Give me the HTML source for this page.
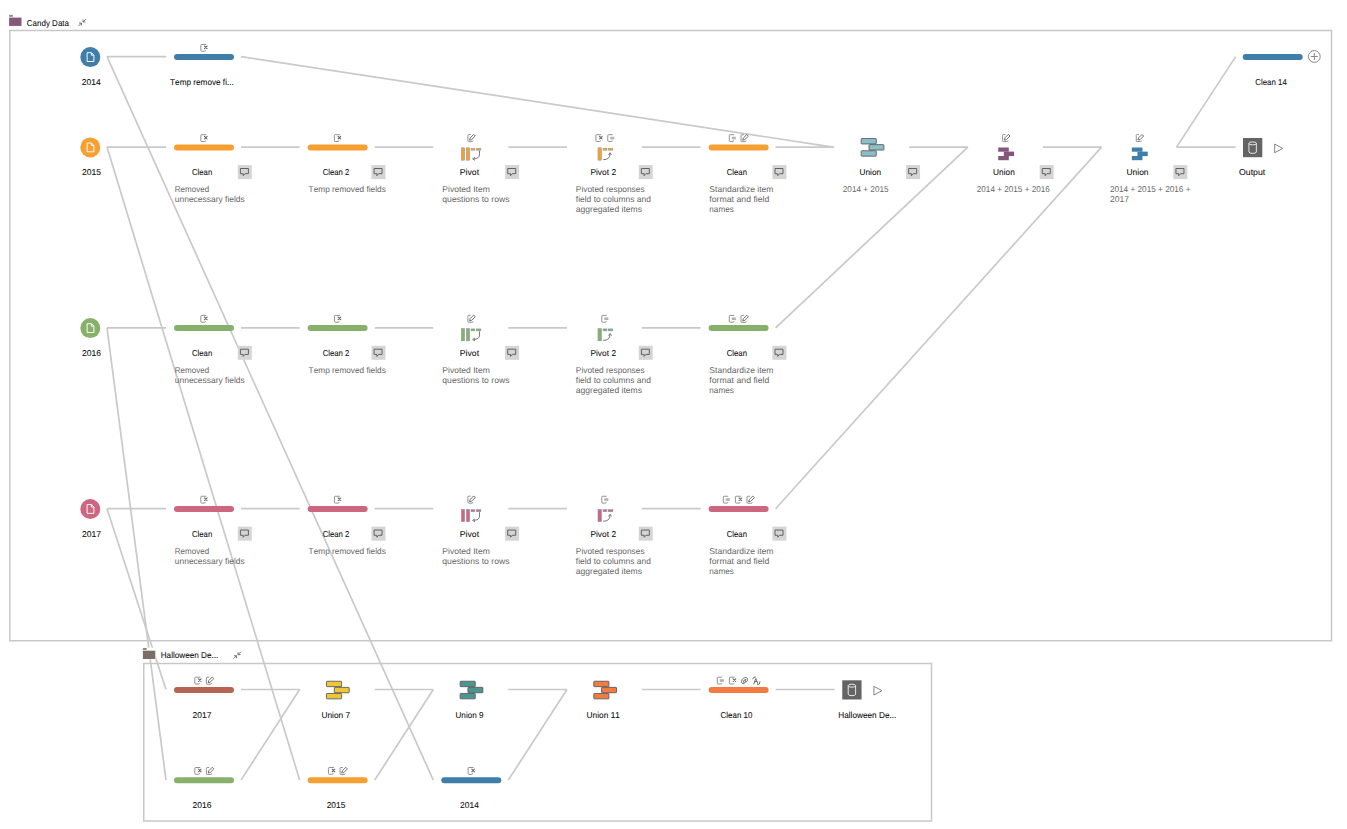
<!DOCTYPE html>
<html><head><meta charset="utf-8"><title>Flow</title>
<style>
html,body{margin:0;padding:0;background:#fff;width:1347px;height:829px;overflow:hidden;}
svg{position:absolute;left:0;top:0;display:block;}
text{font-family:"Liberation Sans", sans-serif;font-variant-ligatures:none;font-kerning:none;}
</style></head><body>
<svg width="1347" height="829" viewBox="0 0 1347 829">
<line x1="107.00" y1="56.60" x2="166.00" y2="56.60" stroke="#c9c9c9" stroke-width="1.7"/>
<line x1="241.00" y1="56.60" x2="833.00" y2="147.10" stroke="#c9c9c9" stroke-width="1.7"/>
<line x1="107.00" y1="147.10" x2="166.00" y2="147.10" stroke="#c9c9c9" stroke-width="1.7"/>
<line x1="241.00" y1="147.10" x2="299.65" y2="147.10" stroke="#c9c9c9" stroke-width="1.7"/>
<line x1="374.65" y1="147.10" x2="433.30" y2="147.10" stroke="#c9c9c9" stroke-width="1.7"/>
<line x1="508.30" y1="147.10" x2="566.95" y2="147.10" stroke="#c9c9c9" stroke-width="1.7"/>
<line x1="641.95" y1="147.10" x2="700.60" y2="147.10" stroke="#c9c9c9" stroke-width="1.7"/>
<line x1="107.00" y1="327.80" x2="166.00" y2="327.80" stroke="#c9c9c9" stroke-width="1.7"/>
<line x1="241.00" y1="327.80" x2="299.65" y2="327.80" stroke="#c9c9c9" stroke-width="1.7"/>
<line x1="374.65" y1="327.80" x2="433.30" y2="327.80" stroke="#c9c9c9" stroke-width="1.7"/>
<line x1="508.30" y1="327.80" x2="566.95" y2="327.80" stroke="#c9c9c9" stroke-width="1.7"/>
<line x1="641.95" y1="327.80" x2="700.60" y2="327.80" stroke="#c9c9c9" stroke-width="1.7"/>
<line x1="107.00" y1="508.70" x2="166.00" y2="508.70" stroke="#c9c9c9" stroke-width="1.7"/>
<line x1="241.00" y1="508.70" x2="299.65" y2="508.70" stroke="#c9c9c9" stroke-width="1.7"/>
<line x1="374.65" y1="508.70" x2="433.30" y2="508.70" stroke="#c9c9c9" stroke-width="1.7"/>
<line x1="508.30" y1="508.70" x2="566.95" y2="508.70" stroke="#c9c9c9" stroke-width="1.7"/>
<line x1="641.95" y1="508.70" x2="700.60" y2="508.70" stroke="#c9c9c9" stroke-width="1.7"/>
<line x1="775.60" y1="147.10" x2="834.25" y2="147.10" stroke="#c9c9c9" stroke-width="1.7"/>
<line x1="909.25" y1="147.10" x2="967.90" y2="147.10" stroke="#c9c9c9" stroke-width="1.7"/>
<line x1="1042.90" y1="147.10" x2="1101.55" y2="147.10" stroke="#c9c9c9" stroke-width="1.7"/>
<line x1="1176.55" y1="147.10" x2="1235.70" y2="147.10" stroke="#c9c9c9" stroke-width="1.7"/>
<line x1="1176.55" y1="147.10" x2="1235.70" y2="56.60" stroke="#c9c9c9" stroke-width="1.7"/>
<line x1="775.60" y1="327.80" x2="967.90" y2="147.10" stroke="#c9c9c9" stroke-width="1.7"/>
<line x1="775.60" y1="508.70" x2="1101.55" y2="147.10" stroke="#c9c9c9" stroke-width="1.7"/>
<line x1="107.00" y1="56.60" x2="433.30" y2="780.10" stroke="#c9c9c9" stroke-width="1.7"/>
<line x1="107.00" y1="147.10" x2="299.65" y2="780.10" stroke="#c9c9c9" stroke-width="1.7"/>
<line x1="107.00" y1="327.80" x2="166.00" y2="780.10" stroke="#c9c9c9" stroke-width="1.7"/>
<line x1="107.00" y1="508.70" x2="166.00" y2="689.50" stroke="#c9c9c9" stroke-width="1.7"/>
<line x1="241.00" y1="689.50" x2="299.65" y2="689.50" stroke="#c9c9c9" stroke-width="1.7"/>
<line x1="241.00" y1="780.10" x2="299.65" y2="689.50" stroke="#c9c9c9" stroke-width="1.7"/>
<line x1="374.65" y1="689.50" x2="433.30" y2="689.50" stroke="#c9c9c9" stroke-width="1.7"/>
<line x1="374.65" y1="780.10" x2="433.30" y2="689.50" stroke="#c9c9c9" stroke-width="1.7"/>
<line x1="508.30" y1="689.50" x2="566.95" y2="689.50" stroke="#c9c9c9" stroke-width="1.7"/>
<line x1="508.30" y1="780.10" x2="566.95" y2="689.50" stroke="#c9c9c9" stroke-width="1.7"/>
<line x1="641.95" y1="689.50" x2="700.60" y2="689.50" stroke="#c9c9c9" stroke-width="1.7"/>
<line x1="775.60" y1="689.50" x2="834.75" y2="689.50" stroke="#c9c9c9" stroke-width="1.7"/>
<rect x="9.75" y="30.5" width="1321.75" height="610.25" fill="none" stroke="#c8c8c8" stroke-width="1.5"/>
<rect x="143.75" y="663.5" width="787.75" height="157.5" fill="none" stroke="#c8c8c8" stroke-width="1.5"/>
<rect x="9.1" y="14.9" width="3.8" height="1.9" fill="#a07c97"/>
<rect x="9.1" y="17.6" width="12.4" height="8.3" fill="#85577a"/>
<g transform="translate(78.00,18.50)" fill="none" stroke="#555" stroke-width="0.8"><path d="M0.5,7.5 L3.5,4.5 M1,4.5 H3.5 V7"/><path d="M8,0.5 L5,3.5 M5,1 V3.5 H7.5"/></g>
<rect x="142.3" y="647.7" width="13.6" height="11.6" fill="#ffffff"/>
<rect x="142.9" y="648.0" width="3.8" height="1.9" fill="#8f847d"/>
<rect x="142.9" y="650.7" width="12.4" height="8.3" fill="#7c6e67"/>
<g transform="translate(233.00,651.20)" fill="none" stroke="#555" stroke-width="0.8"><path d="M0.5,7.5 L3.5,4.5 M1,4.5 H3.5 V7"/><path d="M8,0.5 L5,3.5 M5,1 V3.5 H7.5"/></g>
<circle cx="90.3" cy="57.1" r="10" fill="#3e7ea9"/>
<path transform="translate(86.00,52.10)" d="M1.1,0.6 H5.4 L7.9,3.1 V9.4 H1.1 Z M5.4,0.6 V3.1 H7.9" fill="none" stroke="#ffffff" stroke-width="0.95" stroke-linejoin="miter"/>
<circle cx="90.3" cy="147.4" r="10" fill="#f5a031"/>
<path transform="translate(86.00,142.40)" d="M1.1,0.6 H5.4 L7.9,3.1 V9.4 H1.1 Z M5.4,0.6 V3.1 H7.9" fill="none" stroke="#ffffff" stroke-width="0.95" stroke-linejoin="miter"/>
<circle cx="90.3" cy="328.1" r="10" fill="#87b06a"/>
<path transform="translate(86.00,323.10)" d="M1.1,0.6 H5.4 L7.9,3.1 V9.4 H1.1 Z M5.4,0.6 V3.1 H7.9" fill="none" stroke="#ffffff" stroke-width="0.95" stroke-linejoin="miter"/>
<circle cx="90.3" cy="508.95" r="10" fill="#cd6680"/>
<path transform="translate(86.00,503.95)" d="M1.1,0.6 H5.4 L7.9,3.1 V9.4 H1.1 Z M5.4,0.6 V3.1 H7.9" fill="none" stroke="#ffffff" stroke-width="0.95" stroke-linejoin="miter"/>
<rect x="174.00" y="54.10" width="60" height="6" rx="3" ry="3" fill="#3e7ea9"/>
<g transform="translate(200.30,43.90)" fill="none" stroke-linecap="round"><path d="M5.6,0.5 H1.3 Q0.5,0.5 0.5,1.3 V6.5 Q0.5,7.3 1.3,7.3 H4.4 Q5.2,7.3 5.2,6.6" stroke="#8c8c8c" stroke-width="0.95"/><path d="M4.2,2.2 L6.8,4.8 M6.8,2.2 L4.2,4.8" stroke="#5a5a5a" stroke-width="1.05"/></g>
<rect x="174.00" y="144.40" width="60" height="6" rx="3" ry="3" fill="#f5a031"/>
<g transform="translate(200.30,134.20)" fill="none" stroke-linecap="round"><path d="M5.6,0.5 H1.3 Q0.5,0.5 0.5,1.3 V6.5 Q0.5,7.3 1.3,7.3 H4.4 Q5.2,7.3 5.2,6.6" stroke="#8c8c8c" stroke-width="0.95"/><path d="M4.2,2.2 L6.8,4.8 M6.8,2.2 L4.2,4.8" stroke="#5a5a5a" stroke-width="1.05"/></g>
<rect x="237.80" y="165.10" width="14" height="14" fill="#d5d5d5"/><path transform="translate(237.80,165.10)" d="M2.6,3.4 H10.6 V8.6 H7.2 L5.4,10.6 V8.6 H2.6 Z" fill="none" stroke="#5c5c5c" stroke-width="0.95" stroke-linejoin="miter"/>
<rect x="307.65" y="144.40" width="60" height="6" rx="3" ry="3" fill="#f5a031"/>
<g transform="translate(333.95,134.20)" fill="none" stroke-linecap="round"><path d="M5.6,0.5 H1.3 Q0.5,0.5 0.5,1.3 V6.5 Q0.5,7.3 1.3,7.3 H4.4 Q5.2,7.3 5.2,6.6" stroke="#8c8c8c" stroke-width="0.95"/><path d="M4.2,2.2 L6.8,4.8 M6.8,2.2 L4.2,4.8" stroke="#5a5a5a" stroke-width="1.05"/></g>
<rect x="371.45" y="165.10" width="14" height="14" fill="#d5d5d5"/><path transform="translate(371.45,165.10)" d="M2.6,3.4 H10.6 V8.6 H7.2 L5.4,10.6 V8.6 H2.6 Z" fill="none" stroke="#5c5c5c" stroke-width="0.95" stroke-linejoin="miter"/>
<g transform="translate(461.00,147.50)"><rect x="0.3" y="0.3" width="3.4" height="12.4" fill="#f5a031" stroke="#8797ab" stroke-width="0.5"/><rect x="5.3" y="0.3" width="3.4" height="12.4" fill="#f5a031" stroke="#8797ab" stroke-width="0.5"/><rect x="10" y="0.7" width="3.8" height="2" fill="#f5a031" stroke="#8797ab" stroke-width="0.5"/><rect x="15.2" y="0.7" width="4.7" height="2" fill="#f5a031" stroke="#8797ab" stroke-width="0.5"/><path d="M18.5,3.2 V7 Q18.5,11 13,11.3" fill="none" stroke="#555" stroke-width="0.8"/><path d="M14,9.8 L11.6,11.3 L14,12.8" fill="none" stroke="#555" stroke-width="0.8"/></g>
<g transform="translate(467.40,134.10)" fill="none" stroke-linecap="round" stroke-linejoin="round"><path d="M3.0,0.5 H1.3 Q0.5,0.5 0.5,1.3 V6.7 Q0.5,7.5 1.3,7.5 H4.8 Q5.6,7.5 5.6,6.8" stroke="#8c8c8c" stroke-width="0.95"/><path d="M2.3,5.6 L2.9,3.7 L6.3,0.3 L7.9,1.9 L4.5,5.3 Z" stroke="#5f5f5f" stroke-width="0.9"/></g>
<rect x="505.10" y="165.10" width="14" height="14" fill="#d5d5d5"/><path transform="translate(505.10,165.10)" d="M2.6,3.4 H10.6 V8.6 H7.2 L5.4,10.6 V8.6 H2.6 Z" fill="none" stroke="#5c5c5c" stroke-width="0.95" stroke-linejoin="miter"/>
<g transform="translate(597.65,147.50)"><rect x="0.3" y="0.3" width="3.6" height="12.4" fill="#f5a031" stroke="#8797ab" stroke-width="0.5"/><rect x="5.4" y="0.7" width="3.8" height="2" fill="#f5a031" stroke="#8797ab" stroke-width="0.5"/><rect x="10.4" y="0.7" width="4.8" height="2" fill="#f5a031" stroke="#8797ab" stroke-width="0.5"/><path d="M5.5,12.2 Q12.4,12.2 12.4,6.2" fill="none" stroke="#555" stroke-width="0.8"/><path d="M10.9,7.4 L12.4,5.2 L13.9,7.4" fill="none" stroke="#555" stroke-width="0.8"/></g>
<g transform="translate(595.35,134.20)" fill="none" stroke-linecap="round"><path d="M5.6,0.5 H1.3 Q0.5,0.5 0.5,1.3 V6.5 Q0.5,7.3 1.3,7.3 H4.4 Q5.2,7.3 5.2,6.6" stroke="#8c8c8c" stroke-width="0.95"/><path d="M4.2,2.2 L6.8,4.8 M6.8,2.2 L4.2,4.8" stroke="#5a5a5a" stroke-width="1.05"/></g>
<g transform="translate(607.25,134.20)" fill="none" stroke-linecap="round"><path d="M5.0,0.5 H1.3 Q0.5,0.5 0.5,1.3 V6.5 Q0.5,7.3 1.3,7.3 H4.4 Q5.0,7.3 5.0,6.6" stroke="#8c8c8c" stroke-width="0.95"/><rect x="3.1" y="2.6" width="3.9" height="2.5" fill="#a0a0a0" stroke="none"/><path d="M3.1,3.35 H7 M3.1,4.35 H7" stroke="#dadada" stroke-width="0.4"/></g>
<rect x="638.75" y="165.10" width="14" height="14" fill="#d5d5d5"/><path transform="translate(638.75,165.10)" d="M2.6,3.4 H10.6 V8.6 H7.2 L5.4,10.6 V8.6 H2.6 Z" fill="none" stroke="#5c5c5c" stroke-width="0.95" stroke-linejoin="miter"/>
<rect x="708.60" y="144.40" width="60" height="6" rx="3" ry="3" fill="#f5a031"/>
<g transform="translate(728.80,134.20)" fill="none" stroke-linecap="round"><path d="M5.0,0.5 H1.3 Q0.5,0.5 0.5,1.3 V6.5 Q0.5,7.3 1.3,7.3 H4.4 Q5.0,7.3 5.0,6.6" stroke="#8c8c8c" stroke-width="0.95"/><rect x="3.1" y="2.6" width="3.9" height="2.5" fill="#a0a0a0" stroke="none"/><path d="M3.1,3.35 H7 M3.1,4.35 H7" stroke="#dadada" stroke-width="0.4"/></g>
<g transform="translate(740.50,134.20)" fill="none" stroke-linecap="round" stroke-linejoin="round"><path d="M3.0,0.5 H1.3 Q0.5,0.5 0.5,1.3 V6.7 Q0.5,7.5 1.3,7.5 H4.8 Q5.6,7.5 5.6,6.8" stroke="#8c8c8c" stroke-width="0.95"/><path d="M2.3,5.6 L2.9,3.7 L6.3,0.3 L7.9,1.9 L4.5,5.3 Z" stroke="#5f5f5f" stroke-width="0.9"/></g>
<rect x="772.40" y="165.10" width="14" height="14" fill="#d5d5d5"/><path transform="translate(772.40,165.10)" d="M2.6,3.4 H10.6 V8.6 H7.2 L5.4,10.6 V8.6 H2.6 Z" fill="none" stroke="#5c5c5c" stroke-width="0.95" stroke-linejoin="miter"/>
<rect x="174.00" y="325.10" width="60" height="6" rx="3" ry="3" fill="#87b06a"/>
<g transform="translate(200.30,314.90)" fill="none" stroke-linecap="round"><path d="M5.6,0.5 H1.3 Q0.5,0.5 0.5,1.3 V6.5 Q0.5,7.3 1.3,7.3 H4.4 Q5.2,7.3 5.2,6.6" stroke="#8c8c8c" stroke-width="0.95"/><path d="M4.2,2.2 L6.8,4.8 M6.8,2.2 L4.2,4.8" stroke="#5a5a5a" stroke-width="1.05"/></g>
<rect x="237.80" y="345.80" width="14" height="14" fill="#d5d5d5"/><path transform="translate(237.80,345.80)" d="M2.6,3.4 H10.6 V8.6 H7.2 L5.4,10.6 V8.6 H2.6 Z" fill="none" stroke="#5c5c5c" stroke-width="0.95" stroke-linejoin="miter"/>
<rect x="307.65" y="325.10" width="60" height="6" rx="3" ry="3" fill="#87b06a"/>
<g transform="translate(333.95,314.90)" fill="none" stroke-linecap="round"><path d="M5.6,0.5 H1.3 Q0.5,0.5 0.5,1.3 V6.5 Q0.5,7.3 1.3,7.3 H4.4 Q5.2,7.3 5.2,6.6" stroke="#8c8c8c" stroke-width="0.95"/><path d="M4.2,2.2 L6.8,4.8 M6.8,2.2 L4.2,4.8" stroke="#5a5a5a" stroke-width="1.05"/></g>
<rect x="371.45" y="345.80" width="14" height="14" fill="#d5d5d5"/><path transform="translate(371.45,345.80)" d="M2.6,3.4 H10.6 V8.6 H7.2 L5.4,10.6 V8.6 H2.6 Z" fill="none" stroke="#5c5c5c" stroke-width="0.95" stroke-linejoin="miter"/>
<g transform="translate(461.00,328.20)"><rect x="0.3" y="0.3" width="3.4" height="12.4" fill="#87b06a" stroke="#8797ab" stroke-width="0.5"/><rect x="5.3" y="0.3" width="3.4" height="12.4" fill="#87b06a" stroke="#8797ab" stroke-width="0.5"/><rect x="10" y="0.7" width="3.8" height="2" fill="#87b06a" stroke="#8797ab" stroke-width="0.5"/><rect x="15.2" y="0.7" width="4.7" height="2" fill="#87b06a" stroke="#8797ab" stroke-width="0.5"/><path d="M18.5,3.2 V7 Q18.5,11 13,11.3" fill="none" stroke="#555" stroke-width="0.8"/><path d="M14,9.8 L11.6,11.3 L14,12.8" fill="none" stroke="#555" stroke-width="0.8"/></g>
<g transform="translate(467.40,314.80)" fill="none" stroke-linecap="round" stroke-linejoin="round"><path d="M3.0,0.5 H1.3 Q0.5,0.5 0.5,1.3 V6.7 Q0.5,7.5 1.3,7.5 H4.8 Q5.6,7.5 5.6,6.8" stroke="#8c8c8c" stroke-width="0.95"/><path d="M2.3,5.6 L2.9,3.7 L6.3,0.3 L7.9,1.9 L4.5,5.3 Z" stroke="#5f5f5f" stroke-width="0.9"/></g>
<rect x="505.10" y="345.80" width="14" height="14" fill="#d5d5d5"/><path transform="translate(505.10,345.80)" d="M2.6,3.4 H10.6 V8.6 H7.2 L5.4,10.6 V8.6 H2.6 Z" fill="none" stroke="#5c5c5c" stroke-width="0.95" stroke-linejoin="miter"/>
<g transform="translate(597.65,328.20)"><rect x="0.3" y="0.3" width="3.6" height="12.4" fill="#87b06a" stroke="#8797ab" stroke-width="0.5"/><rect x="5.4" y="0.7" width="3.8" height="2" fill="#87b06a" stroke="#8797ab" stroke-width="0.5"/><rect x="10.4" y="0.7" width="4.8" height="2" fill="#87b06a" stroke="#8797ab" stroke-width="0.5"/><path d="M5.5,12.2 Q12.4,12.2 12.4,6.2" fill="none" stroke="#555" stroke-width="0.8"/><path d="M10.9,7.4 L12.4,5.2 L13.9,7.4" fill="none" stroke="#555" stroke-width="0.8"/></g>
<g transform="translate(601.25,314.90)" fill="none" stroke-linecap="round"><path d="M5.0,0.5 H1.3 Q0.5,0.5 0.5,1.3 V6.5 Q0.5,7.3 1.3,7.3 H4.4 Q5.0,7.3 5.0,6.6" stroke="#8c8c8c" stroke-width="0.95"/><rect x="3.1" y="2.6" width="3.9" height="2.5" fill="#a0a0a0" stroke="none"/><path d="M3.1,3.35 H7 M3.1,4.35 H7" stroke="#dadada" stroke-width="0.4"/></g>
<rect x="638.75" y="345.80" width="14" height="14" fill="#d5d5d5"/><path transform="translate(638.75,345.80)" d="M2.6,3.4 H10.6 V8.6 H7.2 L5.4,10.6 V8.6 H2.6 Z" fill="none" stroke="#5c5c5c" stroke-width="0.95" stroke-linejoin="miter"/>
<rect x="708.60" y="325.10" width="60" height="6" rx="3" ry="3" fill="#87b06a"/>
<g transform="translate(728.80,314.90)" fill="none" stroke-linecap="round"><path d="M5.0,0.5 H1.3 Q0.5,0.5 0.5,1.3 V6.5 Q0.5,7.3 1.3,7.3 H4.4 Q5.0,7.3 5.0,6.6" stroke="#8c8c8c" stroke-width="0.95"/><rect x="3.1" y="2.6" width="3.9" height="2.5" fill="#a0a0a0" stroke="none"/><path d="M3.1,3.35 H7 M3.1,4.35 H7" stroke="#dadada" stroke-width="0.4"/></g>
<g transform="translate(740.50,314.90)" fill="none" stroke-linecap="round" stroke-linejoin="round"><path d="M3.0,0.5 H1.3 Q0.5,0.5 0.5,1.3 V6.7 Q0.5,7.5 1.3,7.5 H4.8 Q5.6,7.5 5.6,6.8" stroke="#8c8c8c" stroke-width="0.95"/><path d="M2.3,5.6 L2.9,3.7 L6.3,0.3 L7.9,1.9 L4.5,5.3 Z" stroke="#5f5f5f" stroke-width="0.9"/></g>
<rect x="772.40" y="345.80" width="14" height="14" fill="#d5d5d5"/><path transform="translate(772.40,345.80)" d="M2.6,3.4 H10.6 V8.6 H7.2 L5.4,10.6 V8.6 H2.6 Z" fill="none" stroke="#5c5c5c" stroke-width="0.95" stroke-linejoin="miter"/>
<rect x="174.00" y="505.95" width="60" height="6" rx="3" ry="3" fill="#cd6680"/>
<g transform="translate(200.30,495.75)" fill="none" stroke-linecap="round"><path d="M5.6,0.5 H1.3 Q0.5,0.5 0.5,1.3 V6.5 Q0.5,7.3 1.3,7.3 H4.4 Q5.2,7.3 5.2,6.6" stroke="#8c8c8c" stroke-width="0.95"/><path d="M4.2,2.2 L6.8,4.8 M6.8,2.2 L4.2,4.8" stroke="#5a5a5a" stroke-width="1.05"/></g>
<rect x="237.80" y="526.65" width="14" height="14" fill="#d5d5d5"/><path transform="translate(237.80,526.65)" d="M2.6,3.4 H10.6 V8.6 H7.2 L5.4,10.6 V8.6 H2.6 Z" fill="none" stroke="#5c5c5c" stroke-width="0.95" stroke-linejoin="miter"/>
<rect x="307.65" y="505.95" width="60" height="6" rx="3" ry="3" fill="#cd6680"/>
<g transform="translate(333.95,495.75)" fill="none" stroke-linecap="round"><path d="M5.6,0.5 H1.3 Q0.5,0.5 0.5,1.3 V6.5 Q0.5,7.3 1.3,7.3 H4.4 Q5.2,7.3 5.2,6.6" stroke="#8c8c8c" stroke-width="0.95"/><path d="M4.2,2.2 L6.8,4.8 M6.8,2.2 L4.2,4.8" stroke="#5a5a5a" stroke-width="1.05"/></g>
<rect x="371.45" y="526.65" width="14" height="14" fill="#d5d5d5"/><path transform="translate(371.45,526.65)" d="M2.6,3.4 H10.6 V8.6 H7.2 L5.4,10.6 V8.6 H2.6 Z" fill="none" stroke="#5c5c5c" stroke-width="0.95" stroke-linejoin="miter"/>
<g transform="translate(461.00,509.05)"><rect x="0.3" y="0.3" width="3.4" height="12.4" fill="#cd6680" stroke="#8797ab" stroke-width="0.5"/><rect x="5.3" y="0.3" width="3.4" height="12.4" fill="#cd6680" stroke="#8797ab" stroke-width="0.5"/><rect x="10" y="0.7" width="3.8" height="2" fill="#cd6680" stroke="#8797ab" stroke-width="0.5"/><rect x="15.2" y="0.7" width="4.7" height="2" fill="#cd6680" stroke="#8797ab" stroke-width="0.5"/><path d="M18.5,3.2 V7 Q18.5,11 13,11.3" fill="none" stroke="#555" stroke-width="0.8"/><path d="M14,9.8 L11.6,11.3 L14,12.8" fill="none" stroke="#555" stroke-width="0.8"/></g>
<g transform="translate(467.40,495.65)" fill="none" stroke-linecap="round" stroke-linejoin="round"><path d="M3.0,0.5 H1.3 Q0.5,0.5 0.5,1.3 V6.7 Q0.5,7.5 1.3,7.5 H4.8 Q5.6,7.5 5.6,6.8" stroke="#8c8c8c" stroke-width="0.95"/><path d="M2.3,5.6 L2.9,3.7 L6.3,0.3 L7.9,1.9 L4.5,5.3 Z" stroke="#5f5f5f" stroke-width="0.9"/></g>
<rect x="505.10" y="526.65" width="14" height="14" fill="#d5d5d5"/><path transform="translate(505.10,526.65)" d="M2.6,3.4 H10.6 V8.6 H7.2 L5.4,10.6 V8.6 H2.6 Z" fill="none" stroke="#5c5c5c" stroke-width="0.95" stroke-linejoin="miter"/>
<g transform="translate(597.65,509.05)"><rect x="0.3" y="0.3" width="3.6" height="12.4" fill="#cd6680" stroke="#8797ab" stroke-width="0.5"/><rect x="5.4" y="0.7" width="3.8" height="2" fill="#cd6680" stroke="#8797ab" stroke-width="0.5"/><rect x="10.4" y="0.7" width="4.8" height="2" fill="#cd6680" stroke="#8797ab" stroke-width="0.5"/><path d="M5.5,12.2 Q12.4,12.2 12.4,6.2" fill="none" stroke="#555" stroke-width="0.8"/><path d="M10.9,7.4 L12.4,5.2 L13.9,7.4" fill="none" stroke="#555" stroke-width="0.8"/></g>
<g transform="translate(601.25,495.75)" fill="none" stroke-linecap="round"><path d="M5.0,0.5 H1.3 Q0.5,0.5 0.5,1.3 V6.5 Q0.5,7.3 1.3,7.3 H4.4 Q5.0,7.3 5.0,6.6" stroke="#8c8c8c" stroke-width="0.95"/><rect x="3.1" y="2.6" width="3.9" height="2.5" fill="#a0a0a0" stroke="none"/><path d="M3.1,3.35 H7 M3.1,4.35 H7" stroke="#dadada" stroke-width="0.4"/></g>
<rect x="638.75" y="526.65" width="14" height="14" fill="#d5d5d5"/><path transform="translate(638.75,526.65)" d="M2.6,3.4 H10.6 V8.6 H7.2 L5.4,10.6 V8.6 H2.6 Z" fill="none" stroke="#5c5c5c" stroke-width="0.95" stroke-linejoin="miter"/>
<rect x="708.60" y="505.95" width="60" height="6" rx="3" ry="3" fill="#cd6680"/>
<g transform="translate(722.80,495.75)" fill="none" stroke-linecap="round"><path d="M5.0,0.5 H1.3 Q0.5,0.5 0.5,1.3 V6.5 Q0.5,7.3 1.3,7.3 H4.4 Q5.0,7.3 5.0,6.6" stroke="#8c8c8c" stroke-width="0.95"/><rect x="3.1" y="2.6" width="3.9" height="2.5" fill="#a0a0a0" stroke="none"/><path d="M3.1,3.35 H7 M3.1,4.35 H7" stroke="#dadada" stroke-width="0.4"/></g>
<g transform="translate(734.90,495.75)" fill="none" stroke-linecap="round"><path d="M5.6,0.5 H1.3 Q0.5,0.5 0.5,1.3 V6.5 Q0.5,7.3 1.3,7.3 H4.4 Q5.2,7.3 5.2,6.6" stroke="#8c8c8c" stroke-width="0.95"/><path d="M4.2,2.2 L6.8,4.8 M6.8,2.2 L4.2,4.8" stroke="#5a5a5a" stroke-width="1.05"/></g>
<g transform="translate(746.50,495.75)" fill="none" stroke-linecap="round" stroke-linejoin="round"><path d="M3.0,0.5 H1.3 Q0.5,0.5 0.5,1.3 V6.7 Q0.5,7.5 1.3,7.5 H4.8 Q5.6,7.5 5.6,6.8" stroke="#8c8c8c" stroke-width="0.95"/><path d="M2.3,5.6 L2.9,3.7 L6.3,0.3 L7.9,1.9 L4.5,5.3 Z" stroke="#5f5f5f" stroke-width="0.9"/></g>
<rect x="772.40" y="526.65" width="14" height="14" fill="#d5d5d5"/><path transform="translate(772.40,526.65)" d="M2.6,3.4 H10.6 V8.6 H7.2 L5.4,10.6 V8.6 H2.6 Z" fill="none" stroke="#5c5c5c" stroke-width="0.95" stroke-linejoin="miter"/>
<g transform="translate(860.75,138.10)" fill="#8bc0ca" stroke="#5c5c5c" stroke-width="0.9"><rect x="0.45" y="0.45" width="15.1" height="5.4" rx="0.6"/><rect x="0.45" y="12.65" width="15.1" height="5.4" rx="0.6"/><rect x="8.25" y="6.55" width="14.9" height="5.4" rx="0.6"/></g>
<rect x="906.05" y="165.10" width="14" height="14" fill="#d5d5d5"/><path transform="translate(906.05,165.10)" d="M2.6,3.4 H10.6 V8.6 H7.2 L5.4,10.6 V8.6 H2.6 Z" fill="none" stroke="#5c5c5c" stroke-width="0.95" stroke-linejoin="miter"/>
<g transform="translate(998.20,147.50)" fill="#845678"><rect x="0" y="0" width="10.6" height="4.2"/><rect x="0" y="8.5" width="10.6" height="4.2"/><rect x="5.6" y="4.1" width="10.3" height="4.5"/></g>
<g transform="translate(1002.10,134.10)" fill="none" stroke-linecap="round" stroke-linejoin="round"><path d="M3.0,0.5 H1.3 Q0.5,0.5 0.5,1.3 V6.7 Q0.5,7.5 1.3,7.5 H4.8 Q5.6,7.5 5.6,6.8" stroke="#8c8c8c" stroke-width="0.95"/><path d="M2.3,5.6 L2.9,3.7 L6.3,0.3 L7.9,1.9 L4.5,5.3 Z" stroke="#5f5f5f" stroke-width="0.9"/></g>
<rect x="1039.70" y="165.10" width="14" height="14" fill="#d5d5d5"/><path transform="translate(1039.70,165.10)" d="M2.6,3.4 H10.6 V8.6 H7.2 L5.4,10.6 V8.6 H2.6 Z" fill="none" stroke="#5c5c5c" stroke-width="0.95" stroke-linejoin="miter"/>
<g transform="translate(1131.85,147.50)" fill="#3e7ea9"><rect x="0" y="0" width="10.6" height="4.2"/><rect x="0" y="8.5" width="10.6" height="4.2"/><rect x="5.6" y="4.1" width="10.3" height="4.5"/></g>
<g transform="translate(1135.75,134.10)" fill="none" stroke-linecap="round" stroke-linejoin="round"><path d="M3.0,0.5 H1.3 Q0.5,0.5 0.5,1.3 V6.7 Q0.5,7.5 1.3,7.5 H4.8 Q5.6,7.5 5.6,6.8" stroke="#8c8c8c" stroke-width="0.95"/><path d="M2.3,5.6 L2.9,3.7 L6.3,0.3 L7.9,1.9 L4.5,5.3 Z" stroke="#5f5f5f" stroke-width="0.9"/></g>
<rect x="1173.35" y="165.10" width="14" height="14" fill="#d5d5d5"/><path transform="translate(1173.35,165.10)" d="M2.6,3.4 H10.6 V8.6 H7.2 L5.4,10.6 V8.6 H2.6 Z" fill="none" stroke="#5c5c5c" stroke-width="0.95" stroke-linejoin="miter"/>
<rect x="1243.00" y="138.00" width="19.3" height="19.2" fill="#646464"/>
<g transform="translate(1243.00,138.00)" fill="none" stroke="#ffffff" stroke-width="0.85"><ellipse cx="9.65" cy="5.4" rx="3.7" ry="1.5"/><path d="M5.95,5.4 V13.9 Q5.95,15.4 9.65,15.4 Q13.35,15.4 13.35,13.9 V5.4"/></g>
<path transform="translate(1274.20,143.60)" d="M0.5,0.5 L8.6,4.8 L0.5,9.1 Z" fill="none" stroke="#777" stroke-width="0.9"/>
<rect x="1242.70" y="54.10" width="60" height="6" rx="3" ry="3" fill="#3e7ea9"/>
<circle cx="1314.3" cy="56.5" r="5.9" fill="none" stroke="#7a7a7a" stroke-width="0.9"/><path d="M1314.3,53 V60 M1310.8,56.5 H1317.8" stroke="#7a7a7a" stroke-width="0.9"/>
<rect x="174.00" y="686.90" width="60" height="6" rx="3" ry="3" fill="#b56352"/>
<g transform="translate(194.30,676.70)" fill="none" stroke-linecap="round"><path d="M5.6,0.5 H1.3 Q0.5,0.5 0.5,1.3 V6.5 Q0.5,7.3 1.3,7.3 H4.4 Q5.2,7.3 5.2,6.6" stroke="#8c8c8c" stroke-width="0.95"/><path d="M4.2,2.2 L6.8,4.8 M6.8,2.2 L4.2,4.8" stroke="#5a5a5a" stroke-width="1.05"/></g>
<g transform="translate(205.90,676.70)" fill="none" stroke-linecap="round" stroke-linejoin="round"><path d="M3.0,0.5 H1.3 Q0.5,0.5 0.5,1.3 V6.7 Q0.5,7.5 1.3,7.5 H4.8 Q5.6,7.5 5.6,6.8" stroke="#8c8c8c" stroke-width="0.95"/><path d="M2.3,5.6 L2.9,3.7 L6.3,0.3 L7.9,1.9 L4.5,5.3 Z" stroke="#5f5f5f" stroke-width="0.9"/></g>
<rect x="174.00" y="777.20" width="60" height="6" rx="3" ry="3" fill="#87b06a"/>
<g transform="translate(194.30,767.00)" fill="none" stroke-linecap="round"><path d="M5.6,0.5 H1.3 Q0.5,0.5 0.5,1.3 V6.5 Q0.5,7.3 1.3,7.3 H4.4 Q5.2,7.3 5.2,6.6" stroke="#8c8c8c" stroke-width="0.95"/><path d="M4.2,2.2 L6.8,4.8 M6.8,2.2 L4.2,4.8" stroke="#5a5a5a" stroke-width="1.05"/></g>
<g transform="translate(205.90,767.00)" fill="none" stroke-linecap="round" stroke-linejoin="round"><path d="M3.0,0.5 H1.3 Q0.5,0.5 0.5,1.3 V6.7 Q0.5,7.5 1.3,7.5 H4.8 Q5.6,7.5 5.6,6.8" stroke="#8c8c8c" stroke-width="0.95"/><path d="M2.3,5.6 L2.9,3.7 L6.3,0.3 L7.9,1.9 L4.5,5.3 Z" stroke="#5f5f5f" stroke-width="0.9"/></g>
<rect x="307.65" y="777.20" width="60" height="6" rx="3" ry="3" fill="#f5a031"/>
<g transform="translate(327.95,767.00)" fill="none" stroke-linecap="round"><path d="M5.6,0.5 H1.3 Q0.5,0.5 0.5,1.3 V6.5 Q0.5,7.3 1.3,7.3 H4.4 Q5.2,7.3 5.2,6.6" stroke="#8c8c8c" stroke-width="0.95"/><path d="M4.2,2.2 L6.8,4.8 M6.8,2.2 L4.2,4.8" stroke="#5a5a5a" stroke-width="1.05"/></g>
<g transform="translate(339.55,767.00)" fill="none" stroke-linecap="round" stroke-linejoin="round"><path d="M3.0,0.5 H1.3 Q0.5,0.5 0.5,1.3 V6.7 Q0.5,7.5 1.3,7.5 H4.8 Q5.6,7.5 5.6,6.8" stroke="#8c8c8c" stroke-width="0.95"/><path d="M2.3,5.6 L2.9,3.7 L6.3,0.3 L7.9,1.9 L4.5,5.3 Z" stroke="#5f5f5f" stroke-width="0.9"/></g>
<rect x="441.30" y="777.20" width="60" height="6" rx="3" ry="3" fill="#3e7ea9"/>
<g transform="translate(467.60,767.00)" fill="none" stroke-linecap="round"><path d="M5.6,0.5 H1.3 Q0.5,0.5 0.5,1.3 V6.5 Q0.5,7.3 1.3,7.3 H4.4 Q5.2,7.3 5.2,6.6" stroke="#8c8c8c" stroke-width="0.95"/><path d="M4.2,2.2 L6.8,4.8 M6.8,2.2 L4.2,4.8" stroke="#5a5a5a" stroke-width="1.05"/></g>
<g transform="translate(326.05,680.80)" fill="#eec637" stroke="#5c5c5c" stroke-width="0.9"><rect x="0.45" y="0.45" width="15.1" height="5.4" rx="0.6"/><rect x="0.45" y="12.65" width="15.1" height="5.4" rx="0.6"/><rect x="8.25" y="6.55" width="14.9" height="5.4" rx="0.6"/></g>
<g transform="translate(459.70,680.80)" fill="#4a9792" stroke="#5c5c5c" stroke-width="0.9"><rect x="0.45" y="0.45" width="15.1" height="5.4" rx="0.6"/><rect x="0.45" y="12.65" width="15.1" height="5.4" rx="0.6"/><rect x="8.25" y="6.55" width="14.9" height="5.4" rx="0.6"/></g>
<g transform="translate(593.35,680.80)" fill="#f37a40" stroke="#5c5c5c" stroke-width="0.9"><rect x="0.45" y="0.45" width="15.1" height="5.4" rx="0.6"/><rect x="0.45" y="12.65" width="15.1" height="5.4" rx="0.6"/><rect x="8.25" y="6.55" width="14.9" height="5.4" rx="0.6"/></g>
<rect x="708.60" y="686.90" width="60" height="6" rx="3" ry="3" fill="#f37a40"/>
<g transform="translate(716.80,676.70)" fill="none" stroke-linecap="round"><path d="M5.0,0.5 H1.3 Q0.5,0.5 0.5,1.3 V6.5 Q0.5,7.3 1.3,7.3 H4.4 Q5.0,7.3 5.0,6.6" stroke="#8c8c8c" stroke-width="0.95"/><rect x="3.1" y="2.6" width="3.9" height="2.5" fill="#a0a0a0" stroke="none"/><path d="M3.1,3.35 H7 M3.1,4.35 H7" stroke="#dadada" stroke-width="0.4"/></g>
<g transform="translate(728.90,676.70)" fill="none" stroke-linecap="round"><path d="M5.6,0.5 H1.3 Q0.5,0.5 0.5,1.3 V6.5 Q0.5,7.3 1.3,7.3 H4.4 Q5.2,7.3 5.2,6.6" stroke="#8c8c8c" stroke-width="0.95"/><path d="M4.2,2.2 L6.8,4.8 M6.8,2.2 L4.2,4.8" stroke="#5a5a5a" stroke-width="1.05"/></g>
<g transform="translate(740.80,676.70)" fill="none" stroke="#5f5f5f" stroke-width="0.9" stroke-linecap="round"><path d="M3.2,7.1 C0.9,7.3 0.0,5.3 1.2,3.2 C2.3,1.0 5.3,0.0 6.5,1.6 C7.6,3.1 6.2,5.5 4.8,5.3 C4.0,5.2 4.3,3.8 5.0,3.0"/><path d="M5.0,3.0 C4.0,2.3 2.2,4.0 2.6,5.6 C2.9,6.4 4.1,5.9 4.8,5.3"/></g>
<g transform="translate(752.40,676.30)" fill="none" stroke="#5f5f5f" stroke-width="0.9" stroke-linecap="round"><path d="M0.4,2.6 Q0.9,0.4 2.9,0.6"/><path d="M1.4,7.6 L3.4,2.2 L5.4,7.2"/><path d="M2.3,5.3 H4.5"/><path d="M7.6,5.4 Q7.9,8.6 5.2,8.6"/></g>
<rect x="842.25" y="680.30" width="19.3" height="19.2" fill="#646464"/>
<g transform="translate(842.25,680.30)" fill="none" stroke="#ffffff" stroke-width="0.85"><ellipse cx="9.65" cy="5.4" rx="3.7" ry="1.5"/><path d="M5.95,5.4 V13.9 Q5.95,15.4 9.65,15.4 Q13.35,15.4 13.35,13.9 V5.4"/></g>
<path transform="translate(873.45,685.90)" d="M0.5,0.5 L8.6,4.8 L0.5,9.1 Z" fill="none" stroke="#777" stroke-width="0.9"/>
<g>
<text transform="translate(26.80,26.20) skewX(0.3)" x="0" y="0" fill="#111111" stroke="#111111" stroke-width="0.08" font-size="8.5" textLength="42.19" lengthAdjust="spacingAndGlyphs">Candy Data</text>
<text transform="translate(160.70,658.10) skewX(0.3)" x="0" y="0" fill="#111111" stroke="#111111" stroke-width="0.08" font-size="8.5" textLength="57.60" lengthAdjust="spacingAndGlyphs">Halloween De...</text>
<text transform="translate(81.80,85.20) skewX(0.3)" x="0" y="0" fill="#111111" stroke="#111111" stroke-width="0.08" font-size="8.5" textLength="19.00" lengthAdjust="spacingAndGlyphs">2014</text>
<text transform="translate(170.10,85.00) skewX(0.3)" x="0" y="0" fill="#111111" stroke="#111111" stroke-width="0.08" font-size="8.5" textLength="63.70" lengthAdjust="spacingAndGlyphs">Temp remove fi...</text>
<text transform="translate(81.90,174.80) skewX(0.3)" x="0" y="0" fill="#111111" stroke="#111111" stroke-width="0.08" font-size="8.5" textLength="19.20" lengthAdjust="spacingAndGlyphs">2015</text>
<text transform="translate(192.00,174.90) skewX(0.3)" x="0" y="0" fill="#111111" stroke="#111111" stroke-width="0.08" font-size="8.5" textLength="20.20" lengthAdjust="spacingAndGlyphs">Clean</text>
<text transform="translate(174.80,192.00) skewX(0.3)" x="0" y="0" fill="#676767" font-size="8.5" textLength="34.30" lengthAdjust="spacingAndGlyphs">Removed</text>
<text transform="translate(174.80,201.90) skewX(0.3)" x="0" y="0" fill="#676767" font-size="8.5" textLength="70.00" lengthAdjust="spacingAndGlyphs">unnecessary fields</text>
<text transform="translate(322.70,174.90) skewX(0.3)" x="0" y="0" fill="#111111" stroke="#111111" stroke-width="0.08" font-size="8.5" textLength="26.70" lengthAdjust="spacingAndGlyphs">Clean 2</text>
<text transform="translate(308.60,192.00) skewX(0.3)" x="0" y="0" fill="#676767" font-size="8.5" textLength="77.20" lengthAdjust="spacingAndGlyphs">Temp removed fields</text>
<text transform="translate(459.70,174.90) skewX(0.3)" x="0" y="0" fill="#111111" stroke="#111111" stroke-width="0.08" font-size="8.5" textLength="19.40" lengthAdjust="spacingAndGlyphs">Pivot</text>
<text transform="translate(442.30,192.00) skewX(0.3)" x="0" y="0" fill="#676767" font-size="8.5" textLength="47.50" lengthAdjust="spacingAndGlyphs">Pivoted Item</text>
<text transform="translate(442.30,201.90) skewX(0.3)" x="0" y="0" fill="#676767" font-size="8.5" textLength="67.20" lengthAdjust="spacingAndGlyphs">questions to rows</text>
<text transform="translate(590.40,174.90) skewX(0.3)" x="0" y="0" fill="#111111" stroke="#111111" stroke-width="0.08" font-size="8.5" textLength="25.70" lengthAdjust="spacingAndGlyphs">Pivot 2</text>
<text transform="translate(575.80,192.00) skewX(0.3)" x="0" y="0" fill="#676767" font-size="8.5" textLength="68.80" lengthAdjust="spacingAndGlyphs">Pivoted responses</text>
<text transform="translate(575.80,201.90) skewX(0.3)" x="0" y="0" fill="#676767" font-size="8.5" textLength="75.10" lengthAdjust="spacingAndGlyphs">field to columns and</text>
<text transform="translate(575.80,211.90) skewX(0.3)" x="0" y="0" fill="#676767" font-size="8.5" textLength="66.20" lengthAdjust="spacingAndGlyphs">aggregated items</text>
<text transform="translate(726.70,174.90) skewX(0.3)" x="0" y="0" fill="#111111" stroke="#111111" stroke-width="0.08" font-size="8.5" textLength="20.30" lengthAdjust="spacingAndGlyphs">Clean</text>
<text transform="translate(709.30,192.00) skewX(0.3)" x="0" y="0" fill="#676767" font-size="8.5" textLength="64.20" lengthAdjust="spacingAndGlyphs">Standardize item</text>
<text transform="translate(709.30,201.90) skewX(0.3)" x="0" y="0" fill="#676767" font-size="8.5" textLength="60.10" lengthAdjust="spacingAndGlyphs">format and field</text>
<text transform="translate(709.30,211.90) skewX(0.3)" x="0" y="0" fill="#676767" font-size="8.5" textLength="24.50" lengthAdjust="spacingAndGlyphs">names</text>
<text transform="translate(81.90,355.50) skewX(0.3)" x="0" y="0" fill="#111111" stroke="#111111" stroke-width="0.08" font-size="8.5" textLength="19.20" lengthAdjust="spacingAndGlyphs">2016</text>
<text transform="translate(192.00,355.60) skewX(0.3)" x="0" y="0" fill="#111111" stroke="#111111" stroke-width="0.08" font-size="8.5" textLength="20.20" lengthAdjust="spacingAndGlyphs">Clean</text>
<text transform="translate(174.80,372.70) skewX(0.3)" x="0" y="0" fill="#676767" font-size="8.5" textLength="34.30" lengthAdjust="spacingAndGlyphs">Removed</text>
<text transform="translate(174.80,382.60) skewX(0.3)" x="0" y="0" fill="#676767" font-size="8.5" textLength="70.00" lengthAdjust="spacingAndGlyphs">unnecessary fields</text>
<text transform="translate(322.70,355.60) skewX(0.3)" x="0" y="0" fill="#111111" stroke="#111111" stroke-width="0.08" font-size="8.5" textLength="26.70" lengthAdjust="spacingAndGlyphs">Clean 2</text>
<text transform="translate(308.60,372.70) skewX(0.3)" x="0" y="0" fill="#676767" font-size="8.5" textLength="77.20" lengthAdjust="spacingAndGlyphs">Temp removed fields</text>
<text transform="translate(459.70,355.60) skewX(0.3)" x="0" y="0" fill="#111111" stroke="#111111" stroke-width="0.08" font-size="8.5" textLength="19.40" lengthAdjust="spacingAndGlyphs">Pivot</text>
<text transform="translate(442.30,372.70) skewX(0.3)" x="0" y="0" fill="#676767" font-size="8.5" textLength="47.50" lengthAdjust="spacingAndGlyphs">Pivoted Item</text>
<text transform="translate(442.30,382.60) skewX(0.3)" x="0" y="0" fill="#676767" font-size="8.5" textLength="67.20" lengthAdjust="spacingAndGlyphs">questions to rows</text>
<text transform="translate(590.40,355.60) skewX(0.3)" x="0" y="0" fill="#111111" stroke="#111111" stroke-width="0.08" font-size="8.5" textLength="25.70" lengthAdjust="spacingAndGlyphs">Pivot 2</text>
<text transform="translate(575.80,372.70) skewX(0.3)" x="0" y="0" fill="#676767" font-size="8.5" textLength="68.80" lengthAdjust="spacingAndGlyphs">Pivoted responses</text>
<text transform="translate(575.80,382.60) skewX(0.3)" x="0" y="0" fill="#676767" font-size="8.5" textLength="75.10" lengthAdjust="spacingAndGlyphs">field to columns and</text>
<text transform="translate(575.80,392.60) skewX(0.3)" x="0" y="0" fill="#676767" font-size="8.5" textLength="66.20" lengthAdjust="spacingAndGlyphs">aggregated items</text>
<text transform="translate(726.70,355.60) skewX(0.3)" x="0" y="0" fill="#111111" stroke="#111111" stroke-width="0.08" font-size="8.5" textLength="20.30" lengthAdjust="spacingAndGlyphs">Clean</text>
<text transform="translate(709.30,372.70) skewX(0.3)" x="0" y="0" fill="#676767" font-size="8.5" textLength="64.20" lengthAdjust="spacingAndGlyphs">Standardize item</text>
<text transform="translate(709.30,382.60) skewX(0.3)" x="0" y="0" fill="#676767" font-size="8.5" textLength="60.10" lengthAdjust="spacingAndGlyphs">format and field</text>
<text transform="translate(709.30,392.60) skewX(0.3)" x="0" y="0" fill="#676767" font-size="8.5" textLength="24.50" lengthAdjust="spacingAndGlyphs">names</text>
<text transform="translate(81.90,536.90) skewX(0.3)" x="0" y="0" fill="#111111" stroke="#111111" stroke-width="0.08" font-size="8.5" textLength="19.20" lengthAdjust="spacingAndGlyphs">2017</text>
<text transform="translate(192.00,537.00) skewX(0.3)" x="0" y="0" fill="#111111" stroke="#111111" stroke-width="0.08" font-size="8.5" textLength="20.20" lengthAdjust="spacingAndGlyphs">Clean</text>
<text transform="translate(174.80,554.10) skewX(0.3)" x="0" y="0" fill="#676767" font-size="8.5" textLength="34.30" lengthAdjust="spacingAndGlyphs">Removed</text>
<text transform="translate(174.80,564.00) skewX(0.3)" x="0" y="0" fill="#676767" font-size="8.5" textLength="70.00" lengthAdjust="spacingAndGlyphs">unnecessary fields</text>
<text transform="translate(322.70,537.00) skewX(0.3)" x="0" y="0" fill="#111111" stroke="#111111" stroke-width="0.08" font-size="8.5" textLength="26.70" lengthAdjust="spacingAndGlyphs">Clean 2</text>
<text transform="translate(308.60,554.10) skewX(0.3)" x="0" y="0" fill="#676767" font-size="8.5" textLength="77.20" lengthAdjust="spacingAndGlyphs">Temp removed fields</text>
<text transform="translate(459.70,537.00) skewX(0.3)" x="0" y="0" fill="#111111" stroke="#111111" stroke-width="0.08" font-size="8.5" textLength="19.40" lengthAdjust="spacingAndGlyphs">Pivot</text>
<text transform="translate(442.30,554.10) skewX(0.3)" x="0" y="0" fill="#676767" font-size="8.5" textLength="47.50" lengthAdjust="spacingAndGlyphs">Pivoted Item</text>
<text transform="translate(442.30,564.00) skewX(0.3)" x="0" y="0" fill="#676767" font-size="8.5" textLength="67.20" lengthAdjust="spacingAndGlyphs">questions to rows</text>
<text transform="translate(590.40,537.00) skewX(0.3)" x="0" y="0" fill="#111111" stroke="#111111" stroke-width="0.08" font-size="8.5" textLength="25.70" lengthAdjust="spacingAndGlyphs">Pivot 2</text>
<text transform="translate(575.80,554.10) skewX(0.3)" x="0" y="0" fill="#676767" font-size="8.5" textLength="68.80" lengthAdjust="spacingAndGlyphs">Pivoted responses</text>
<text transform="translate(575.80,564.00) skewX(0.3)" x="0" y="0" fill="#676767" font-size="8.5" textLength="75.10" lengthAdjust="spacingAndGlyphs">field to columns and</text>
<text transform="translate(575.80,574.00) skewX(0.3)" x="0" y="0" fill="#676767" font-size="8.5" textLength="66.20" lengthAdjust="spacingAndGlyphs">aggregated items</text>
<text transform="translate(726.70,537.00) skewX(0.3)" x="0" y="0" fill="#111111" stroke="#111111" stroke-width="0.08" font-size="8.5" textLength="20.30" lengthAdjust="spacingAndGlyphs">Clean</text>
<text transform="translate(709.30,554.10) skewX(0.3)" x="0" y="0" fill="#676767" font-size="8.5" textLength="64.20" lengthAdjust="spacingAndGlyphs">Standardize item</text>
<text transform="translate(709.30,564.00) skewX(0.3)" x="0" y="0" fill="#676767" font-size="8.5" textLength="60.10" lengthAdjust="spacingAndGlyphs">format and field</text>
<text transform="translate(709.30,574.00) skewX(0.3)" x="0" y="0" fill="#676767" font-size="8.5" textLength="24.50" lengthAdjust="spacingAndGlyphs">names</text>
<text transform="translate(859.60,174.90) skewX(0.3)" x="0" y="0" fill="#111111" stroke="#111111" stroke-width="0.08" font-size="8.5" textLength="21.50" lengthAdjust="spacingAndGlyphs">Union</text>
<text transform="translate(842.80,192.00) skewX(0.3)" x="0" y="0" fill="#676767" font-size="8.5" textLength="45.80" lengthAdjust="spacingAndGlyphs">2014 + 2015</text>
<text transform="translate(993.10,174.90) skewX(0.3)" x="0" y="0" fill="#111111" stroke="#111111" stroke-width="0.08" font-size="8.5" textLength="21.70" lengthAdjust="spacingAndGlyphs">Union</text>
<text transform="translate(976.80,192.00) skewX(0.3)" x="0" y="0" fill="#676767" font-size="8.5" textLength="73.00" lengthAdjust="spacingAndGlyphs">2014 + 2015 + 2016</text>
<text transform="translate(1126.50,174.90) skewX(0.3)" x="0" y="0" fill="#111111" stroke="#111111" stroke-width="0.08" font-size="8.5" textLength="22.00" lengthAdjust="spacingAndGlyphs">Union</text>
<text transform="translate(1109.90,192.00) skewX(0.3)" x="0" y="0" fill="#676767" font-size="8.5" textLength="80.60" lengthAdjust="spacingAndGlyphs">2014 + 2015 + 2016 +</text>
<text transform="translate(1109.90,202.00) skewX(0.3)" x="0" y="0" fill="#676767" font-size="8.5" textLength="19.10" lengthAdjust="spacingAndGlyphs">2017</text>
<text transform="translate(1239.00,174.90) skewX(0.3)" x="0" y="0" fill="#111111" stroke="#111111" stroke-width="0.08" font-size="8.5" textLength="26.30" lengthAdjust="spacingAndGlyphs">Output</text>
<text transform="translate(1255.30,84.90) skewX(0.3)" x="0" y="0" fill="#111111" stroke="#111111" stroke-width="0.08" font-size="8.5" textLength="31.50" lengthAdjust="spacingAndGlyphs">Clean 14</text>
<text transform="translate(192.60,718.00) skewX(0.3)" x="0" y="0" fill="#111111" stroke="#111111" stroke-width="0.08" font-size="8.5" textLength="19.00" lengthAdjust="spacingAndGlyphs">2017</text>
<text transform="translate(192.60,808.00) skewX(0.3)" x="0" y="0" fill="#111111" stroke="#111111" stroke-width="0.08" font-size="8.5" textLength="19.00" lengthAdjust="spacingAndGlyphs">2016</text>
<text transform="translate(326.70,808.00) skewX(0.3)" x="0" y="0" fill="#111111" stroke="#111111" stroke-width="0.08" font-size="8.5" textLength="18.70" lengthAdjust="spacingAndGlyphs">2015</text>
<text transform="translate(460.10,808.00) skewX(0.3)" x="0" y="0" fill="#111111" stroke="#111111" stroke-width="0.08" font-size="8.5" textLength="18.80" lengthAdjust="spacingAndGlyphs">2014</text>
<text transform="translate(321.40,718.00) skewX(0.3)" x="0" y="0" fill="#111111" stroke="#111111" stroke-width="0.08" font-size="8.5" textLength="28.70" lengthAdjust="spacingAndGlyphs">Union 7</text>
<text transform="translate(455.50,718.00) skewX(0.3)" x="0" y="0" fill="#111111" stroke="#111111" stroke-width="0.08" font-size="8.5" textLength="28.00" lengthAdjust="spacingAndGlyphs">Union 9</text>
<text transform="translate(586.60,718.00) skewX(0.3)" x="0" y="0" fill="#111111" stroke="#111111" stroke-width="0.08" font-size="8.5" textLength="33.30" lengthAdjust="spacingAndGlyphs">Union 11</text>
<text transform="translate(720.50,718.00) skewX(0.3)" x="0" y="0" fill="#111111" stroke="#111111" stroke-width="0.08" font-size="8.5" textLength="32.00" lengthAdjust="spacingAndGlyphs">Clean 10</text>
<text transform="translate(838.20,718.40) skewX(0.3)" x="0" y="0" fill="#111111" stroke="#111111" stroke-width="0.08" font-size="8.5" textLength="58.20" lengthAdjust="spacingAndGlyphs">Halloween De...</text>
</g>
</svg>
</body></html>
